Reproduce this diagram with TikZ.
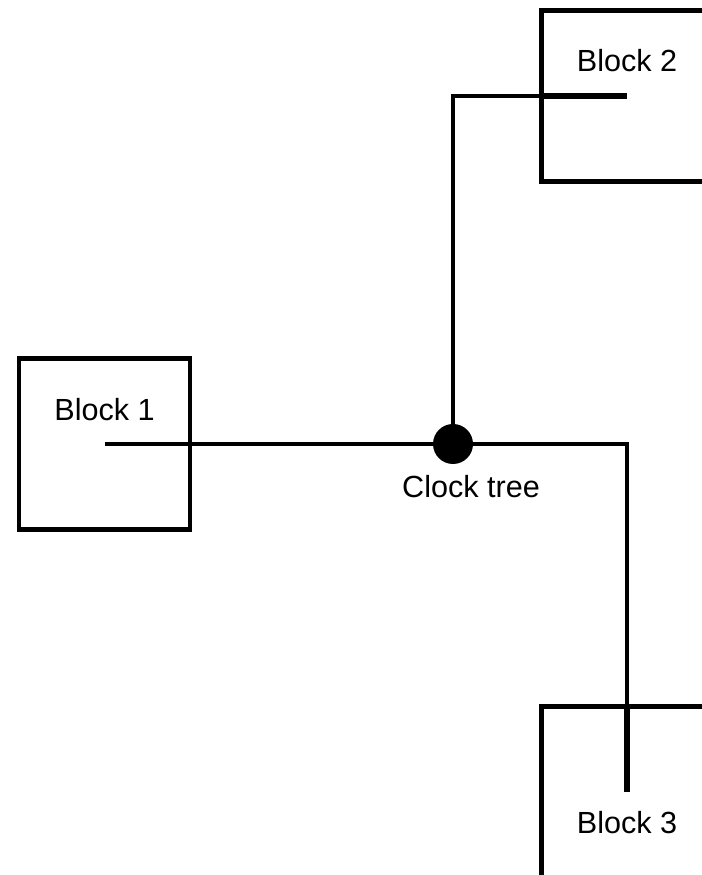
\documentclass[tikz,border=0pt]{standalone}
\usepackage{fontspec}
\setmainfont{Liberation Sans}

\begin{document}
\begin{tikzpicture}[
  block/.style={draw, line width=1.15pt, minimum size=1.71cm, inner sep=0pt},
  wire/.style={line width=1.05pt},
  stub/.style={line width=1.5pt},
  dot/.style={circle, fill=black, minimum size=0.40cm, inner sep=0pt},
  lbl/.style={font=\fontsize{8.7}{10}\selectfont}
]
\useasboundingbox (0,0) rectangle (7.02,8.75);
\clip (0,0) rectangle (7.02,8.75);

\node[block] (b1) at (1.045,4.31) {};
\node[block] (b2) at (6.27,7.79) {};
\node[block] (b3) at (6.27,0.83) {};
\node[dot] (ct) at (4.53,4.31) {};

\node[lbl] (b1text) at (1.045,4.65) {Block 1};
\node[lbl] (b2text) at (6.27,8.14) {Block 2};
\node[lbl] (b3text) at (6.27,0.52) {Block 3};
\node[lbl] (cttext) at (4.71,3.885) {Clock tree};

\draw[wire] (b1.center) -- (ct.center);
\draw[wire] (ct.center) |- (b2.center);
\draw[wire] (ct.center) -| (b3.center);
\draw[stub] (b2.west) -- (b2.center);
\draw[stub] (b3.north) -- (b3.center);
\end{tikzpicture}
\end{document}
